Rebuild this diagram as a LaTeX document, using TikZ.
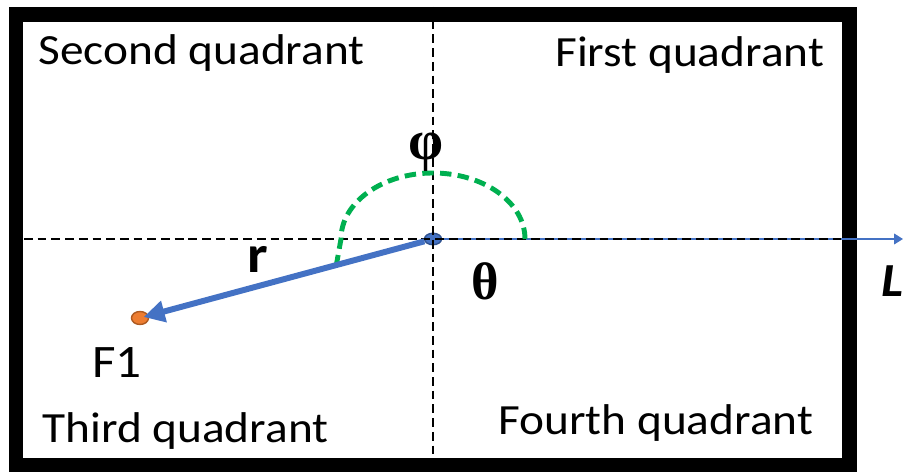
\documentclass[tikz,border=0pt]{standalone}
\usepackage{fontspec}
\setmainfont{Carlito}[FakeStretch=1.1]
\newfontfamily\greekfont{Liberation Serif}
\usetikzlibrary{arrows.meta,shapes.geometric}
\definecolor{axisblue}{HTML}{4472C4}
\definecolor{darkblue}{HTML}{2F528F}
\definecolor{arcgreen}{HTML}{00B050}
\definecolor{dotorange}{HTML}{ED7D31}
\definecolor{darkorange}{HTML}{AE5A21}
\tikzset{
  quadlabel/.style={anchor=base west,inner sep=0pt,font=\fontsize{24.5}{28}\selectfont},
  axisdash/.style={line width=0.6pt,dash pattern=on 5pt off 2.8pt},
}
\begin{document}
\begin{tikzpicture}[x=0.02cm,y=0.02cm]
  \useasboundingbox (0,0) rectangle (904,472);
  \draw[line width=0.3cm] (16,6) rectangle (849,457);
  \coordinate (Lend) at (903,233);
  \coordinate (hleft) at (24,233);
  \coordinate (hright) at (842,233);
  \coordinate (vtop) at (433,465);
  \coordinate (vbot) at (433,7);
  \coordinate (arcstart) at (525,233);
  \coordinate (arcend) at (336,205);
  \node[ellipse,draw=darkblue,fill=axisblue,line width=0.8pt,
        inner sep=0pt,minimum width=0.34cm,minimum height=0.23cm] (o) at (433,233) {};
  \node[ellipse,draw=darkorange,fill=dotorange,line width=0.8pt,
        inner sep=0pt,minimum width=0.34cm,minimum height=0.26cm] (f1) at (140,154) {};
  \draw[axisblue,line width=0.9pt,-{Triangle[length=5pt,width=6pt]}] (o) -- (Lend);
  \draw[axisdash] (hleft) -- (hright);
  \draw[axisdash] (vtop) -- (vbot);
  \draw[arcgreen,line width=2.8pt,dash pattern=on 6.5pt off 3.6pt]
    (arcstart) arc[start angle=0,end angle=180,x radius=92,y radius=66] -- (arcend);
  \draw[axisblue,line width=3.4pt,-{Triangle[length=12pt,width=12pt]},shorten >=-3pt] (o) -- (f1);
  \node[quadlabel] (q2) at (38,407) {Second quadrant};
  \node[quadlabel] (q1) at (555,405) {First quadrant};
  \node[quadlabel] (q3) at (42,29) {Third quadrant};
  \node[quadlabel] (q4) at (498,37) {Fourth quadrant};
  \node[quadlabel,font=\fontsize{26.5}{30}\selectfont] (f1label) at (92,94) {F1};
  \node[quadlabel,font=\fontsize{30}{34}\selectfont\bfseries] (rlabel) at (247,199) {r};
  \node[quadlabel,font=\fontsize{27}{30}\selectfont\bfseries\itshape] (Llabel) at (881,175) {L};
  \node[inner sep=0pt,font=\fontsize{32}{36}\selectfont\greekfont\bfseries] (philabel) at (426,320) {φ};
  \node[quadlabel,font=\fontsize{30}{34}\selectfont\greekfont\bfseries] (thetalabel) at (471,172) {θ};
\end{tikzpicture}
\end{document}
